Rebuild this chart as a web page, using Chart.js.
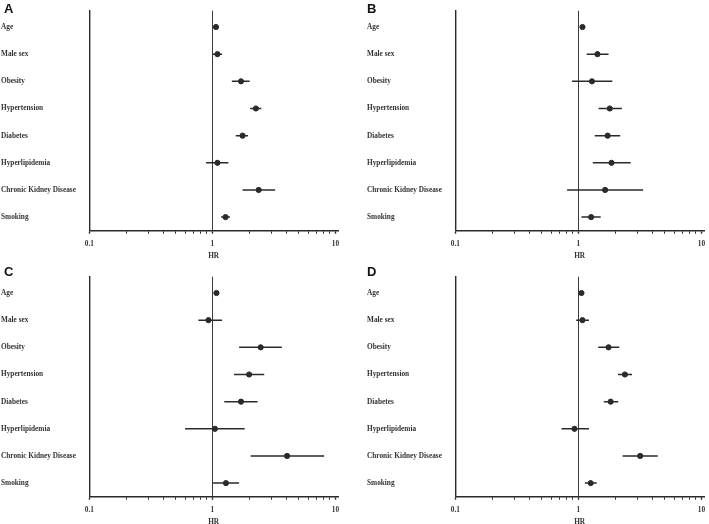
<!DOCTYPE html>
<html>
<head>
<meta charset="utf-8">
<script src="https://cdn.jsdelivr.net/npm/chart.js@4/dist/chart.umd.min.js"></script>
<style>
    body{margin:0;background:#fff;overflow:hidden;}
    #wrap{position:relative;width:709px;height:524px;overflow:hidden;}
    canvas{position:absolute;}
    .tag{position:absolute;font:bold 13px "Liberation Sans",Arial,sans-serif;line-height:13px;color:#111;}
</style>
</head>
<body>
<div id="wrap">
    <canvas id="chartA" width="343" height="262" style="left:0;top:0"></canvas>
    <canvas id="chartB" width="343" height="262" style="left:366px;top:0"></canvas>
    <canvas id="chartC" width="343" height="262" style="left:0;top:266px"></canvas>
    <canvas id="chartD" width="343" height="262" style="left:366px;top:266px"></canvas>
    <div class="tag" style="left:4px;top:2px">A</div>
    <div class="tag" style="left:367px;top:2px">B</div>
    <div class="tag" style="left:4px;top:265px">C</div>
    <div class="tag" style="left:367px;top:265px">D</div>
</div>
<script>
// =========================================
// Data
// =========================================

const rows = [
    "Age","Male sex","Obesity","Hypertension",
    "Diabetes","Hyperlipidemia","Chronic Kidney Disease","Smoking"
];

const xTicks = [0.1,0.2,0.3,0.4,0.5,0.6,0.7,0.8,0.9,1,2,3,4,5,6,7,8,9,10];
const xLabels = [0.1,1,10];

const hrA = [1.07,1.10,1.71,2.26,1.76,1.10,2.38,1.28];
const loA = [1.05,1.00,1.44,2.03,1.55,0.89,1.76,1.18];
const hiA = [1.09,1.20,2.01,2.50,1.95,1.35,3.24,1.39];

const hrB = [1.08,1.43,1.29,1.80,1.73,1.86,1.65,1.27];
const loB = [1.06,1.17,0.89,1.46,1.36,1.31,0.81,1.06];
const hiB = [1.10,1.76,1.89,2.26,2.19,2.66,3.36,1.52];

const hrC = [1.08,0.93,2.47,1.99,1.71,1.05,4.05,1.29];
const loC = [1.06,0.77,1.65,1.50,1.25,0.60,2.05,1.01];
const hiC = [1.10,1.20,3.67,2.64,2.33,1.83,8.10,1.65];

const hrD = [1.06,1.08,1.76,2.39,1.83,0.93,3.18,1.26];
const loD = [1.04,0.96,1.45,2.10,1.61,0.73,2.29,1.13];
const hiD = [1.08,1.22,2.15,2.73,2.11,1.22,4.42,1.41];

const ink = "#2a2a2a";
const serif = {family:"'Liberation Serif','Times New Roman',serif",size:7.3,weight:"bold"};

// =========================================
// Forest plot
// =========================================

function createForest(id,hr,lo,hi){

    const ciSets = rows.map((r,i)=>({
        type:"line",
        data:[{x:lo[i],y:i},{x:hi[i],y:i}],
        borderColor:ink,
        borderWidth:1.5,
        pointRadius:0,
        order:2
    }));

    return new Chart(document.getElementById(id),{

        type:"scatter",

        data:{
            datasets:[{
                data:rows.map((r,i)=>({x:hr[i],y:i})),
                backgroundColor:ink,
                borderColor:ink,
                pointRadius:2.6,
                order:1
            }].concat(ciSets)
        },

        options:{
            responsive:false,
            animation:false,
            layout:{padding:{left:1,right:3,top:10.7,bottom:0}},
            plugins:{
                legend:{display:false},
                tooltip:{enabled:false}
            },
            scales:{
                x:{
                    type:"logarithmic",
                    min:0.1,
                    max:10.5,
                    afterBuildTicks:(s)=>{ s.ticks = xTicks.map(v=>({value:v})); },
                    afterFit:(s)=>{
                        s.height = 31.3;
                        s.paddingLeft = 0;
                        s.paddingRight = 0;
                    },
                    grid:{
                        drawOnChartArea:true,
                        color:(c)=>c.tick && c.tick.value===1 ? "#3a3a3a" : "rgba(0,0,0,0)",
                        lineWidth:1,
                        tickColor:ink,
                        tickLength:3,
                        tickWidth:(c)=>c.tick && xLabels.includes(c.tick.value) ? 1.4 : 1
                    },
                    border:{color:ink,width:1.4},
                    ticks:{
                        autoSkip:false,
                        maxRotation:0,
                        padding:6,
                        color:"#333",
                        font:serif,
                        callback:(v)=>xLabels.includes(v) ? String(v) : ""
                    },
                    title:{
                        display:true,
                        text:"HR",
                        color:"#333",
                        font:serif,
                        padding:{top:1,bottom:2}
                    }
                },
                y:{
                    type:"linear",
                    reverse:true,
                    min:-0.6,
                    max:7.5,
                    afterBuildTicks:(s)=>{ s.ticks = rows.map((r,i)=>({value:i})); },
                    afterFit:(s)=>{ s.width = 88.3; },
                    grid:{display:false},
                    border:{display:true,color:ink,width:1.4},
                    ticks:{
                        crossAlign:"far",
                        color:"#333",
                        font:serif,
                        callback:(v)=>rows[v]
                    }
                }
            }
        }

    });

}

createForest("chartA",hrA,loA,hiA);
createForest("chartB",hrB,loB,hiB);
createForest("chartC",hrC,loC,hiC);
createForest("chartD",hrD,loD,hiD);
</script>
</body>
</html>
